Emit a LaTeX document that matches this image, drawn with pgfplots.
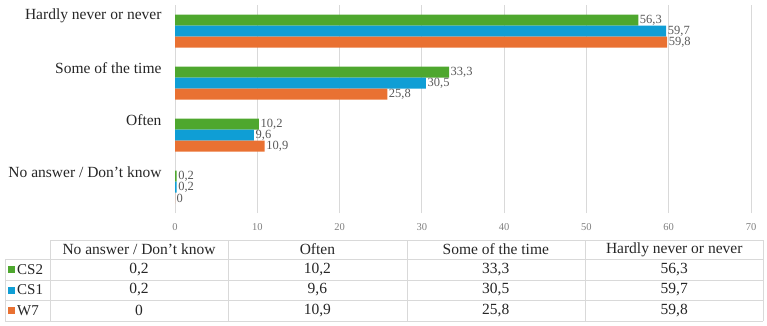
\documentclass[border=0pt]{standalone}
\usepackage{pgfplots}
\usepackage{pgfplotstable}
\pgfplotsset{compat=1.18}
\usepackage{fontspec}
\setmainfont{Liberation Serif}

\definecolor{cstwo}{HTML}{4EA72E}
\definecolor{csone}{HTML}{0F9ED5}
\definecolor{wseven}{HTML}{E97132}
\definecolor{gridc}{HTML}{D9D9D9}
\definecolor{valc}{HTML}{595959}
\definecolor{tickc}{HTML}{7F7F7F}
\definecolor{txtc}{HTML}{262626}

\pgfkeys{/pgf/number format/.cd, use comma, fixed, precision=1, assume math mode=true}

% rows: No answer / Don't know, Often, Some of the time, Hardly never or never
\pgfplotstableread{
row CS2  CS1  W7
0   0.2  0.2  0
1   10.2 9.6  10.9
2   33.3 30.5 25.8
3   56.3 59.7 59.8
}\responses

\begin{document}
\begin{tikzpicture}
\path[use as bounding box] (0,0) rectangle (767pt,-326pt);
\begin{axis}[
  at={(175pt,-213pt)}, anchor=south west,
  scale only axis, width=576pt, height=208pt,
  xbar, bar width=11pt,
  xmin=0, xmax=70, ymin=-0.5, ymax=3.5,
  xtick={0,10,...,70}, ytick={0,1,2,3},
  yticklabels={No answer / Don’t know, Often, Some of the time, Hardly never or never},
  axis line style={draw=none},
  major tick length=0pt,
  xmajorgrids, grid style={gridc, line width=0.8pt},
  xticklabel style={font=\fontsize{10.5}{12}\selectfont, text=tickc, yshift=-7pt},
  yticklabel style={font=\fontsize{15.5}{17}\selectfont, text=txtc, yshift=15pt, xshift=-10pt},
  point meta=x,
  nodes near coords,
  every node near coord/.append style={font=\fontsize{12.5}{13}\selectfont, text=valc, anchor=west, inner sep=1.5pt, yshift=-0.5pt},
  clip=false,
]
\addplot[fill=cstwo, draw=none, bar shift=11pt] table[x=CS2, y=row]{\responses};
\addplot[fill=csone, draw=none, bar shift=0pt] table[x=CS1, y=row]{\responses};
\addplot[fill=wseven, draw=none, bar shift=-11pt] table[x=W7, y=row]{\responses};
\end{axis}

% data table below the chart
\begin{scope}[gridc, line width=0.8pt]
  \draw (50pt,-240pt) -- (763pt,-240pt);
  \foreach \yy in {259,280,300,321} \draw (5pt,-\yy pt) -- (763pt,-\yy pt);
  \draw (5pt,-259pt) -- (5pt,-321pt);
  \foreach \xx in {50,228,407,585,763} \draw (\xx pt,-240pt) -- (\xx pt,-321pt);
\end{scope}
\foreach \name [count=\i from 0] in {No answer / Don’t know, Often, Some of the time, Hardly never or never}{
  \pgfmathsetmacro{\cx}{139+178.4*\i}
  \node[font=\fontsize{15.5}{17}\selectfont, text=txtc] at (\cx pt,-249.5pt) {\name};
}
\foreach \ser/\col/\yy in {CS2/cstwo/269.5, CS1/csone/290, W7/wseven/310.5}{
  \fill[\col] (8pt,-\yy pt+3.5pt) rectangle (15pt,-\yy pt-3.5pt);
  \node[font=\fontsize{15}{17}\selectfont, text=txtc, anchor=west, inner sep=0pt] at (17pt,-\yy pt) {\ser};
  \foreach \i in {0,...,3}{
    \pgfmathsetmacro{\cx}{139+178.4*\i}
    \pgfplotstablegetelem{\i}{\ser}\of\responses
    \node[font=\fontsize{15.5}{17}\selectfont, text=txtc] at (\cx pt,-\yy pt) {\pgfmathprintnumber{\pgfplotsretval}};
  }
}
\end{tikzpicture}
\end{document}
